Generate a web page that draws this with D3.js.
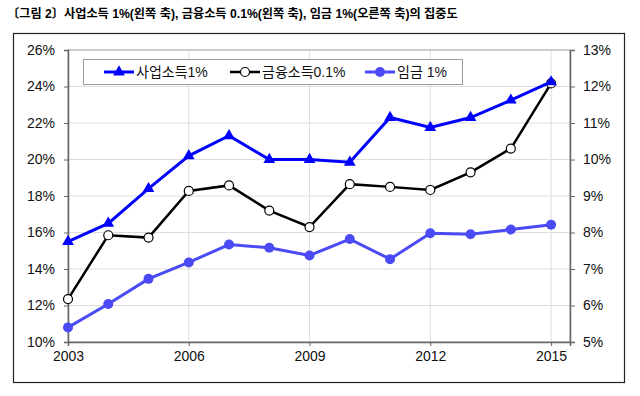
<!DOCTYPE html>
<html>
<head>
<meta charset="utf-8">
<script src="https://cdn.jsdelivr.net/npm/d3@7"></script>
<style>
  body { margin: 0; background: #fff; }
  text { font-family: "Liberation Sans", Arial, "Noto Sans CJK KR", sans-serif; }
</style>
</head>
<body>
<div id="chart-area"></div>
<script>
// data
var years = [2003, 2004, 2005, 2006, 2007, 2008, 2009, 2010, 2011, 2012, 2013, 2014, 2015];
var business = [15.5, 16.5, 18.4, 20.2, 21.3, 20.0, 20.0, 19.85, 22.3, 21.75, 22.3, 23.25, 24.25];
var finance = [12.35, 15.85, 15.72, 18.28, 18.58, 17.2, 16.3, 18.65, 18.5, 18.33, 19.3, 20.6, 24.17];
var wage = [5.4, 6.04, 6.73, 7.18, 7.67, 7.58, 7.37, 7.82, 7.27, 7.98, 7.95, 8.08, 8.21];
var leftTicks = [10, 12, 14, 16, 18, 20, 22, 24, 26];
var rightTicks = [5, 6, 7, 8, 9, 10, 11, 12, 13];
var xTicks = [2003, 2006, 2009, 2012, 2015];
var seriesNames = ["사업소득1%", "금융소득0.1%", "임금 1%"];
var title = "〔그림 2〕사업소득 1%(왼쪽 축), 금융소득 0.1%(왼쪽 축), 임금 1%(오른쪽 축)의 집중도";

var svg = d3.select("#chart-area").append("svg")
     .attr("width", 640)
     .attr("height", 396);

svg.append("text")
     .attr("x", 7)
     .attr("y", 17.5)
     .attr("font-size", 12.2)
     .attr("font-weight", "bold")
     .attr("font-family", "'Noto Sans CJK KR', sans-serif")
     .text(title);

// outer frame
svg.append("rect")
     .attr("x", 13.5).attr("y", 33.5)
     .attr("width", 611).attr("height", 349)
     .attr("fill", "none").attr("stroke", "#222").attr("stroke-width", 1.2);

var x = d3.scaleLinear().domain([2003, 2015.47]).range([68, 570]);
var yL = d3.scaleLinear().domain([10, 26]).range([342, 50]);
var yR = d3.scaleLinear().domain([5, 13]).range([342, 50]);

// grid
svg.append("g").selectAll("line").data(leftTicks).enter().append("line")
     .attr("x1", 68).attr("x2", 570)
     .attr("y1", d => yL(d)).attr("y2", d => yL(d))
     .attr("stroke", "#ddd").attr("stroke-width", 1);
svg.append("g").selectAll("line").data(xTicks.slice(1)).enter().append("line")
     .attr("x1", d => x(d)).attr("x2", d => x(d))
     .attr("y1", 50).attr("y2", 342)
     .attr("stroke", "#ddd").attr("stroke-width", 1);

// plot border
svg.append("rect")
     .attr("x", 68).attr("y", 50).attr("width", 502).attr("height", 292)
     .attr("fill", "none").attr("stroke", "#aaa");

// axes
var fmt = d => d + "%";
var gL = svg.append("g").attr("transform", "translate(68,0)")
     .call(d3.axisLeft(yL).tickValues(leftTicks).tickFormat(fmt).tickSize(4));
var gR = svg.append("g").attr("transform", "translate(570,0)")
     .call(d3.axisRight(yR).tickValues(rightTicks).tickFormat(fmt).tickSize(5));
var gX = svg.append("g").attr("transform", "translate(0,342)")
     .call(d3.axisBottom(x).tickValues(xTicks).tickFormat(d3.format("d")).tickSize(4));

[gL, gR, gX].forEach(g => {
     g.select(".domain").attr("stroke", "#666").attr("stroke-width", 1.5);
     g.selectAll(".tick line").attr("stroke", "#666");
     g.selectAll("text").attr("font-size", 14).attr("fill", "#111")
          .attr("font-family", "'Liberation Sans', Arial, sans-serif");
});
gL.selectAll("text").attr("x", -13);
gR.selectAll("text").attr("x", 13);
gX.selectAll("text").attr("y", 9);

var line = yScale => d3.line().x((d, i) => x(years[i])).y(d => yScale(d));

// wage 1%
svg.append("path").datum(wage)
     .attr("d", line(yR)).attr("fill", "none")
     .attr("stroke", "#4b4bf5").attr("stroke-width", 3);
svg.append("g").selectAll("circle").data(wage).enter().append("circle")
     .attr("cx", (d, i) => x(years[i])).attr("cy", d => yR(d))
     .attr("r", 5).attr("fill", "#4b4bf5");

// finance 0.1%
svg.append("path").datum(finance)
     .attr("d", line(yL)).attr("fill", "none")
     .attr("stroke", "#000").attr("stroke-width", 2.5);
svg.append("g").selectAll("circle").data(finance).enter().append("circle")
     .attr("cx", (d, i) => x(years[i])).attr("cy", d => yL(d))
     .attr("r", 4.5).attr("fill", "#fff").attr("stroke", "#000").attr("stroke-width", 1.2);

// business 1%
var tri = d3.symbol().type(d3.symbolTriangle).size(60);
svg.append("path").datum(business)
     .attr("d", line(yL)).attr("fill", "none")
     .attr("stroke", "#0000ff").attr("stroke-width", 3);
svg.append("g").selectAll("path").data(business).enter().append("path")
     .attr("d", tri)
     .attr("transform", (d, i) => "translate(" + x(years[i]) + "," + yL(d) + ")")
     .attr("fill", "#0000ff");

// legend
var lg = svg.append("g");
lg.append("rect").attr("x", 83.5).attr("y", 59.5).attr("width", 379).attr("height", 25)
     .attr("fill", "#fff").attr("stroke", "#999");
var legendX = [104, 230, 365];
var legendCol = ["#0000ff", "#000", "#4b4bf5"];
seriesNames.forEach((n, i) => {
     var lx = legendX[i], ly = 72;
     lg.append("line").attr("x1", lx).attr("x2", lx + 30).attr("y1", ly).attr("y2", ly)
          .attr("stroke", legendCol[i]).attr("stroke-width", i == 1 ? 2.5 : 3);
     if (i == 0) {
          lg.append("path").attr("d", tri).attr("transform", "translate(" + (lx + 15) + "," + ly + ")")
               .attr("fill", "#0000ff");
     } else if (i == 1) {
          lg.append("circle").attr("cx", lx + 15).attr("cy", ly).attr("r", 4.5)
               .attr("fill", "#fff").attr("stroke", "#000").attr("stroke-width", 1.2);
     } else {
          lg.append("circle").attr("cx", lx + 15).attr("cy", ly).attr("r", 5).attr("fill", "#4b4bf5");
     }
     lg.append("text").attr("x", lx + 32).attr("y", ly + 5)
          .attr("font-size", 14).attr("fill", "#111")
          .attr("font-family", "'Noto Sans CJK KR', sans-serif")
          .text(n);
});
</script>
</body>
</html>
